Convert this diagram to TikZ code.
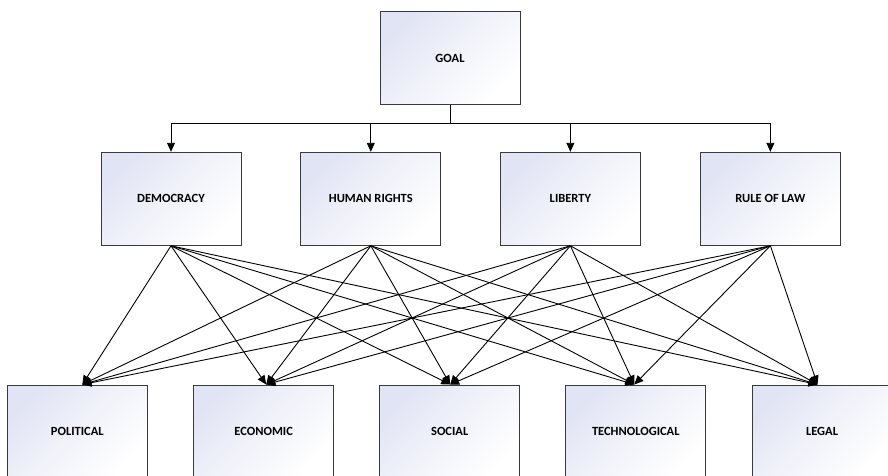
\documentclass[tikz,border=0pt]{standalone}
\usepackage{fontspec}
\setmainfont{Carlito}
\usetikzlibrary{arrows.meta,calc}
\definecolor{lav}{HTML}{E1E4F4}
\definecolor{edge}{HTML}{3A3A3A}
\tikzset{
  box/.style={draw=edge, line width=1pt, minimum width=140pt, minimum height=93pt,
    inner sep=0pt, top color=lav, bottom color=white, middle color=lav!45!white,
    shading angle=45,
    font=\fontsize{12.5}{15}\selectfont\bfseries},
  conn/.style={draw=black, line width=0.9pt},
  arr/.style={conn, -{Triangle[length=9pt,width=8pt]}}
}
\begin{document}
\begin{tikzpicture}[x=1pt,y=-1pt]
\useasboundingbox (0,0) rectangle (888,476);
\clip (0,0) rectangle (888,476);
% top
\node[box] (goal) at (450,58.5) {GOAL};
% middle row
\node[box] (dem) at (171,198.8) {DEMOCRACY};
\node[box] (hr)  at (370.8,198.8) {HUMAN RIGHTS};
\node[box] (lib) at (570.4,198.8) {LIBERTY};
\node[box] (rol) at (770.4,198.8) {RULE OF LAW};
% bottom row
\node[box] (pol) at (77.3,431.5) {POLITICAL};
\node[box] (eco) at (263.7,431.5) {ECONOMIC};
\node[box] (soc) at (449.7,431.5) {SOCIAL};
\node[box] (tec) at (635.8,431.5) {TECHNOLOGICAL};
\node[box] (leg) at (822,431.5) {LEGAL};
% tree connectors
\coordinate (bus) at ($(goal.south)+(0,17.5)$);
\draw[conn] (goal.south) -- (bus);
\foreach \m in {dem,hr,lib,rol}{
  \draw[arr] (bus) -| (\m.north);
}
% targets
\coordinate (polin) at ($(pol.north)+(5,0)$);
\coordinate (ecoin) at ($(eco.north)+(2.5,0)$);
\coordinate (socin) at ($(soc.north)+(0.5,0)$);
\coordinate (tecin) at ($(tec.north)+(-1.5,0)$);
\coordinate (legin) at ($(leg.north)+(-4.5,0)$);
\foreach \m in {dem,hr,lib,rol}{
  \foreach \t in {polin,ecoin,socin,tecin,legin}{
    \draw[arr] (\m.south) -- (\t);
  }
}
\end{tikzpicture}
\end{document}
